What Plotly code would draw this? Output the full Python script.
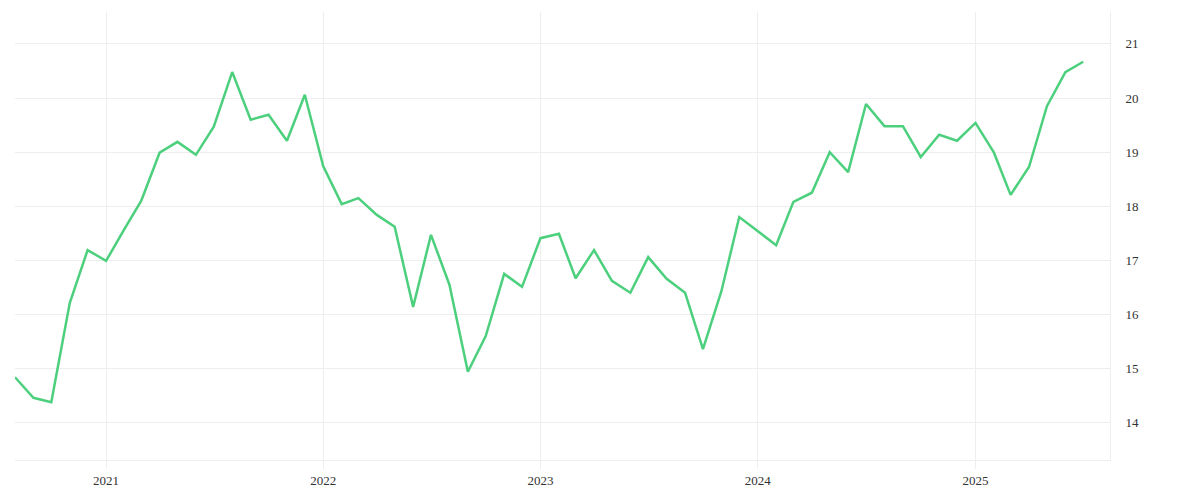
import plotly.graph_objects as go
import pandas as pd

dates = pd.date_range("2020-08-01", periods=60, freq="MS")
values = [14.84, 14.46, 14.38, 16.21, 17.19,
          16.99, 17.58, 18.10, 18.99, 19.19, 18.95, 19.47, 20.48, 19.60, 19.69, 19.21, 20.06,
          18.74, 18.04, 18.15, 17.84, 17.62, 16.14, 17.47, 16.55, 14.94, 15.60, 16.75, 16.51,
          17.41, 17.49, 16.67, 17.19, 16.62, 16.40, 17.06, 16.66, 16.40, 15.36, 16.43, 17.80,
          17.54, 17.28, 18.08, 18.25, 19.00, 18.63, 19.89, 19.48, 19.48, 18.91, 19.32, 19.21,
          19.54, 18.99, 18.21, 18.73, 19.85, 20.48, 20.67]
tick_years = ["2021-01-01", "2022-01-01", "2023-01-01", "2024-01-01", "2025-01-01"]
tick_text = ["2021", "2022", "2023", "2024", "2025"]

fig = go.Figure(go.Scatter(x=dates, y=values, mode="lines",
                           line=dict(color="#4cd07d", width=2.5), hoverinfo="skip"))
fig.update_layout(
    width=1200, height=500, margin=dict(l=7, r=98, t=4, b=48),
    plot_bgcolor="white", paper_bgcolor="white", showlegend=False,
    font=dict(family="Liberation Serif", size=13, color="#333333"),
    xaxis=dict(range=["2020-08-01", "2025-08-15"], tickvals=tick_years, ticktext=tick_text,
               showgrid=True, gridcolor="#eeeeee", ticks="outside", ticklen=8, tickcolor="#eeeeee",
               zeroline=False, showline=True, linecolor="#eeeeee",
               tickfont=dict(color="#333333")),
    yaxis=dict(side="right", range=[13.31, 21.59], tickvals=[14, 15, 16, 17, 18, 19, 20, 21],
               showgrid=True, gridcolor="#eeeeee", ticks="outside", ticklen=12, tickcolor="white",
               zeroline=False, showline=True, linecolor="#eeeeee",
               tickfont=dict(color="#333333")),
)
fig.write_html("out.html")
